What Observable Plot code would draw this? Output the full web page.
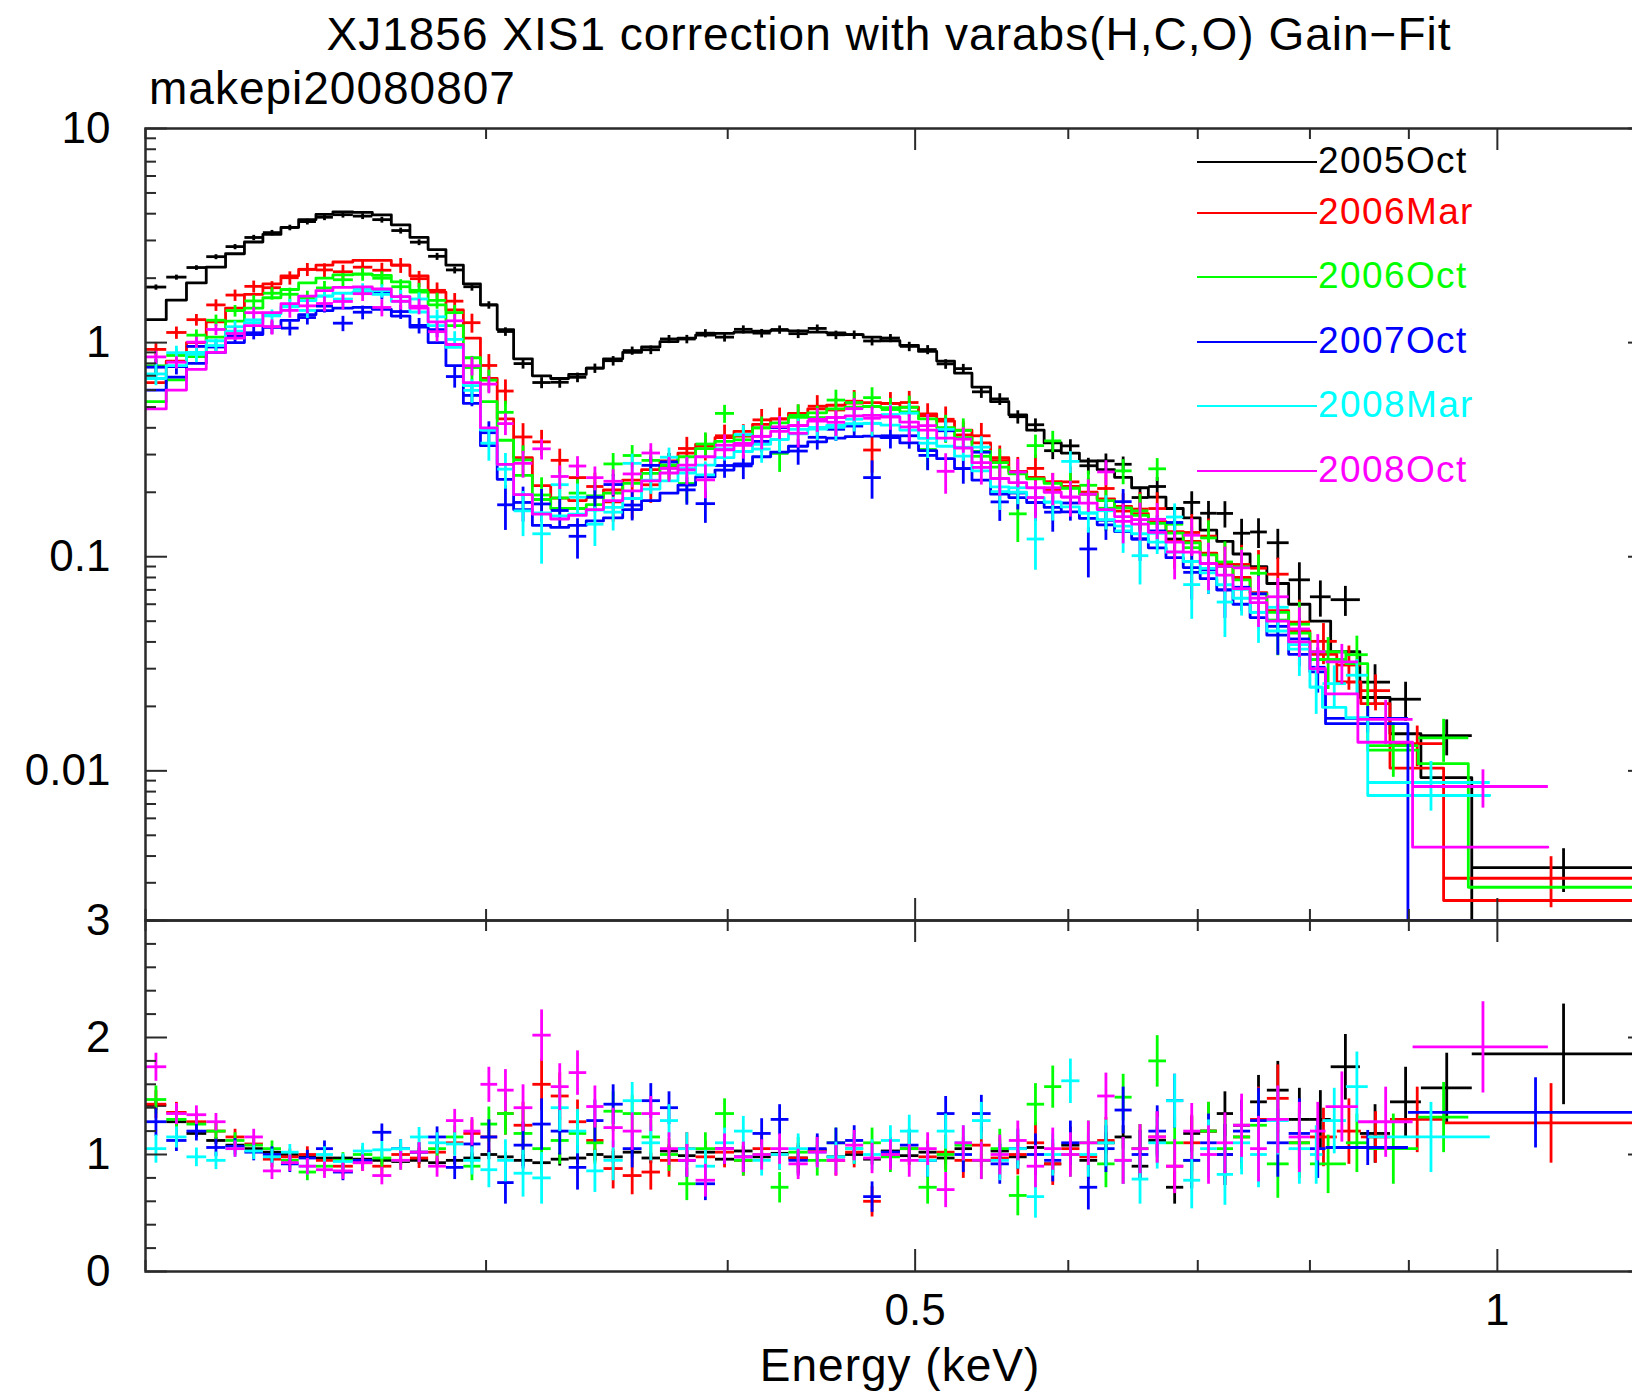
<!DOCTYPE html>
<html><head><meta charset="utf-8">
<script src="https://cdn.jsdelivr.net/npm/d3@7"></script>
<script src="https://cdn.jsdelivr.net/npm/@observablehq/plot@0.6"></script>
<style>
html,body{margin:0;padding:0;background:#fff;overflow:hidden;}
#wrap{position:relative;width:1632px;height:1394px;overflow:hidden;background:#fff;font-family:"Liberation Sans",Arial,Helvetica,sans-serif;}
.t{position:absolute;white-space:nowrap;color:#000;}
</style></head><body><div id="wrap"></div>
<script>
// ---------------- data ----------------
const seriesNames = ["2005Oct","2006Mar","2006Oct","2007Oct","2008Mar","2008Oct"];
const seriesColors = ["#000000","#ff0000","#00ff00","#0000ff","#00ffff","#ff00ff"];

// shared bin edges (keV) for 0.2 - 0.8 keV
const binEdges = [0.200,0.205,0.210,0.215,0.220,0.225,0.230,0.235,0.240,0.245,0.250,0.256,0.262,0.268,0.274,0.280,0.286,0.292,0.298,0.304,0.310,0.317,0.324,0.331,0.338,0.345,0.353,0.361,0.369,0.377,0.385,0.394,0.403,0.412,0.421,0.430,0.440,0.450,0.460,0.470,0.480,0.491,0.502,0.513,0.524,0.535,0.547,0.559,0.571,0.583,0.595,0.608,0.621,0.634,0.647,0.660,0.674,0.688,0.702,0.716,0.730,0.745,0.760,0.780,0.800];

// folded model (counts/s/keV) per bin
const model2005Oct = [1.28,1.58,1.9,2.25,2.6,2.95,3.2,3.45,3.75,3.97, 4.08,4.06,3.95,3.55,3.1,2.72,2.3,1.88,1.5,1.15, 0.84,0.7,0.68,0.71,0.76,0.84,0.9,0.955,1.01,1.05, 1.085,1.105,1.12,1.13,1.14,1.135,1.12,1.11,1.09,1.06, 1.02,0.97,0.91,0.82,0.72,0.62,0.53,0.46,0.39,0.34, 0.305,0.28,0.255,0.235,0.21,0.19,0.168,0.152,0.133,0.118, 0.103,0.09,0.075,0.06];
const model2006Mar = [0.65,0.82,1.0,1.25,1.45,1.68,1.88,2.05,2.2,2.3, 2.38,2.42,2.42,2.3,2.05,1.72,1.42,1.05,0.68,0.44, 0.29,0.215,0.188,0.183,0.19,0.205,0.228,0.255,0.28,0.305, 0.335,0.36,0.385,0.415,0.44,0.467,0.49,0.51,0.522,0.525, 0.52,0.5,0.465,0.43,0.39,0.34,0.29,0.25,0.235,0.224, 0.213,0.2,0.186,0.172,0.159,0.146,0.131,0.118,0.104,0.092, 0.08,0.068,0.056,0.045];
const model2006Oct = [0.53,0.67,0.86,1.06,1.26,1.45,1.62,1.77,1.9,2.0, 2.07,2.09,2.06,1.92,1.72,1.5,1.2,0.85,0.53,0.35, 0.24,0.185,0.168,0.168,0.175,0.198,0.22,0.245,0.268,0.293, 0.32,0.346,0.37,0.4,0.422,0.448,0.47,0.49,0.5,0.503, 0.497,0.475,0.44,0.4,0.36,0.31,0.262,0.244,0.231,0.22, 0.209,0.196,0.183,0.169,0.156,0.143,0.129,0.116,0.102,0.09, 0.078,0.067,0.055,0.044];
const model2007Oct = [0.6,0.69,0.8,0.9,1.0,1.09,1.18,1.27,1.35,1.41, 1.45,1.46,1.43,1.33,1.18,1.0,0.78,0.52,0.33,0.23, 0.166,0.14,0.137,0.14,0.147,0.152,0.166,0.183,0.198,0.216, 0.236,0.254,0.271,0.293,0.308,0.328,0.344,0.358,0.364,0.366, 0.36,0.34,0.313,0.287,0.258,0.228,0.196,0.189,0.179,0.17, 0.162,0.151,0.141,0.131,0.121,0.11,0.099,0.089,0.079,0.07, 0.06,0.052,0.043,0.035];
const model2008Mar = [0.68,0.78,0.9,1.02,1.13,1.24,1.36,1.47,1.57,1.65, 1.7,1.72,1.68,1.56,1.39,1.2,0.95,0.63,0.39,0.27, 0.195,0.16,0.155,0.158,0.165,0.17,0.187,0.207,0.226,0.246, 0.268,0.29,0.31,0.335,0.353,0.375,0.394,0.41,0.418,0.42, 0.412,0.39,0.357,0.328,0.295,0.252,0.212,0.2,0.189,0.18, 0.171,0.16,0.149,0.139,0.128,0.117,0.105,0.095,0.084,0.074, 0.064,0.055,0.045,0.037];
const model2008Oct = [0.49,0.6,0.75,0.9,1.05,1.2,1.38,1.52,1.65,1.75, 1.81,1.82,1.78,1.64,1.45,1.25,0.98,0.65,0.4,0.27, 0.195,0.158,0.15,0.156,0.166,0.183,0.203,0.226,0.246,0.268, 0.293,0.316,0.338,0.365,0.385,0.41,0.43,0.447,0.455,0.457, 0.45,0.425,0.39,0.358,0.322,0.275,0.232,0.222,0.21,0.2, 0.19,0.178,0.166,0.154,0.142,0.13,0.117,0.105,0.093,0.082, 0.071,0.061,0.05,0.04];

// data / model ratio per bin
const ratio2005Oct = [1.42,1.28,1.18,1.12,1.08,1.05,1.02,1.0,0.98,0.97, 0.97,0.96,0.95,0.94,0.95,0.93,0.95,0.97,1.0,0.98, 0.95,0.93,0.96,0.97,1.0,0.98,1.02,0.97,1.03,0.99, 1.02,0.96,1.03,0.98,1.01,0.97,1.04,0.98,1.0,0.96, 1.03,0.99,1.02,0.97,1.05,0.95,1.03,0.98,1.06,0.92, 1.08,0.95,1.1,1.15,0.9,1.12,0.72,1.18,1.2,1.35, 1.25,1.45,1.55,1.3];
const ratio2006Mar = [1.43,1.36,1.28,1.2,1.15,1.09,0.96,0.98,1.0,0.95, 0.9,0.93,0.9,1.0,0.97,1.02,1.1,1.18,1.15,1.35, 1.25,1.6,1.5,1.28,1.12,0.88,0.82,0.85,0.95,1.05, 0.98,1.02,0.95,1.05,1.0,0.97,1.03,0.95,1.02,0.6, 1.0,1.05,0.98,1.02,0.95,1.08,0.97,1.0,1.1,0.92, 1.05,0.98,1.12,0.95,1.05,1.15,0.9,1.1,1.2,1.0, 1.15,1.3,1.48,1.1];
const ratio2006Oct = [1.47,1.3,1.26,1.2,1.12,1.08,1.05,0.95,0.85,0.9, 0.95,1.0,0.97,0.95,1.02,1.05,1.15,0.9,1.26,1.35, 1.18,1.05,1.12,1.18,1.1,1.37,1.35,1.15,1.0,0.75, 1.05,1.35,0.95,1.0,0.72,1.02,0.95,1.1,1.05,1.1, 0.98,1.05,0.72,1.0,1.08,0.95,1.05,0.65,1.43,1.58, 1.0,1.1,0.92,1.49,1.05,1.8,1.1,0.95,1.2,1.05, 1.15,1.25,0.92,1.1];
const ratio2007Oct = [1.28,1.12,1.2,1.06,1.07,1.02,1.0,0.92,0.97,1.05, 0.85,0.95,1.19,1.05,1.02,1.15,0.89,1.09,1.15,0.76, 1.08,1.26,1.2,0.89,1.29,1.43,1.05,1.46,1.4,0.95, 0.75,1.05,0.98,1.18,1.3,0.95,1.05,1.1,1.12,0.64, 1.02,1.08,0.95,1.35,1.0,1.35,0.92,1.05,1.0,0.95, 1.1,0.72,1.05,1.38,1.0,1.2,1.46,0.95,1.1,1.0, 1.2,1.29,1.1,1.18];
const ratio2008Mar = [1.05,1.15,0.98,0.95,1.05,1.03,0.98,1.02,0.9,1.0, 0.94,1.03,1.04,1.05,1.15,1.1,1.09,0.95,0.87,0.95, 0.84,0.8,1.4,1.2,0.86,0.95,1.46,1.1,1.29,1.05, 0.9,1.1,1.2,0.95,1.0,1.05,1.02,0.98,1.05,1.0, 1.12,1.2,0.95,1.2,1.1,1.29,0.95,1.05,0.64,1.0, 1.63,1.0,1.1,0.95,0.79,1.1,1.46,0.78,1.05,0.83, 1.1,1.0,1.29,1.05];
const ratio2008Oct = [1.75,1.35,1.34,1.28,1.05,1.15,0.86,0.93,0.9,0.87, 0.86,0.93,0.82,0.95,1.02,0.9,1.29,1.2,1.6,1.55, 1.4,2.02,1.58,1.7,1.41,1.23,1.2,1.35,1.05,0.95, 0.78,1.05,0.98,1.0,1.05,0.92,1.02,0.95,1.08,0.97, 1.0,0.95,1.05,0.7,1.1,0.95,1.0,1.12,0.9,1.05, 1.0,1.1,1.5,0.95,1.05,1.15,0.9,1.2,1.0,1.1, 1.25,1.05,1.3,1.15];

// 1-sigma error on the ratio per bin
const ratioErrBlack = [0.04,0.035,0.03,0.03,0.03,0.03,0.03,0.03,0.03,0.03, 0.03,0.03,0.03,0.03,0.03,0.035,0.035,0.04,0.04,0.045, 0.05,0.055,0.055,0.05,0.05,0.05,0.045,0.045,0.045,0.045, 0.045,0.045,0.045,0.045,0.045,0.045,0.045,0.045,0.045,0.045, 0.045,0.05,0.05,0.05,0.055,0.06,0.065,0.07,0.075,0.08, 0.08,0.085,0.09,0.1,0.11,0.12,0.14,0.15,0.17,0.19, 0.21,0.23,0.25,0.27];
const ratioErrColor = [0.12,0.09,0.08,0.075,0.07,0.07,0.07,0.07,0.07,0.07, 0.07,0.07,0.075,0.08,0.085,0.09,0.1,0.12,0.15,0.18, 0.2,0.22,0.2,0.19,0.18,0.17,0.16,0.15,0.14,0.14, 0.14,0.13,0.13,0.13,0.13,0.13,0.13,0.13,0.13,0.13, 0.13,0.14,0.14,0.15,0.15,0.16,0.17,0.17,0.18,0.18, 0.19,0.19,0.2,0.2,0.21,0.22,0.23,0.24,0.25,0.26, 0.27,0.28,0.29,0.3];

// wide high-energy bins, per observation
const tailEdges2005Oct = [0.80,0.82,0.849,0.88,0.913,0.97,1.194];
const tailModel2005Oct = [0.05,0.036,0.022,0.0149,0.0093,0.0019];
const tailRatio2005Oct = [1.3,1.75,1.18,1.45,1.57,1.86];
const tailErr2005Oct   = [0.25,0.28,0.25,0.3,0.3,0.43];
const tailEdges2006Mar = [0.80,0.826,0.85,0.88,0.938,1.194];
const tailModel2006Mar = [0.035,0.026,0.0206,0.0103,0.00248];
const tailRatio2006Mar = [1.15,1.2,1.15,1.3,1.27];
const tailErr2006Mar   = [0.25,0.28,0.22,0.28,0.34];
const tailEdges2006Oct = [0.80,0.835,0.857,0.91,0.966,1.194];
const tailModel2006Oct = [0.036,0.0317,0.0125,0.0108,0.00286];
const tailRatio2006Oct = [0.92,1.1,1.05,1.32,null];
const tailErr2006Oct   = [0.25,0.25,0.3,0.3,0.3];
const tailEdges2007Oct = [0.80,0.815,0.899,1.194];
const tailModel2007Oct = [0.029,0.0166,0.0012];
const tailRatio2007Oct = [1.05,1.06,1.36];
const tailErr2007Oct   = [0.25,0.15,0.3];
const tailEdges2008Mar = [0.80,0.812,0.835,0.857,0.991];
const tailModel2008Mar = [0.0246,0.0198,0.0177,0.00767];
const tailRatio2008Mar = [1.0,1.29,1.58,1.15];
const tailErr2008Mar   = [0.25,0.28,0.3,0.3];
const tailEdges2008Oct = [0.80,0.815,0.847,0.904,1.062];
const tailModel2008Oct = [0.03,0.0229,0.0136,0.0044];
const tailRatio2008Oct = [1.2,1.41,1.28,1.92];
const tailErr2008Oct   = [0.25,0.3,0.3,0.39];

// axes
const xDomain = [0.2, 1.2];
const yTopDomain = [0.002, 10];
const yBotDomain = [0, 3];
const xMajorTicks = [0.5, 1];
const xMinorTicks = [0.2, 0.3, 0.4, 0.6, 0.7, 0.8, 0.9];
const xTickLabels = ["0.5", "1"];
const yTopMajorTicks = [0.01, 0.1, 1, 10];
const yTopMinorTicks = [0.002,0.003,0.004,0.005,0.006,0.007,0.008,0.009,0.02,0.03,0.04,0.05,0.06,0.07,0.08,0.09,0.2,0.3,0.4,0.5,0.6,0.7,0.8,0.9,2,3,4,5,6,7,8,9];
const yTopTickLabels = ["0.01","0.1","1","10"];
const yBotMajorTicks = [0, 1, 2, 3];
const yBotMinorTicks = [0.2,0.4,0.6,0.8,1.2,1.4,1.6,1.8,2.2,2.4,2.6,2.8];
const yBotTickLabels = ["0","1","2","3"];

// ---------------- build ----------------
const models = [model2005Oct, model2006Mar, model2006Oct, model2007Oct, model2008Mar, model2008Oct];
const ratios = [ratio2005Oct, ratio2006Mar, ratio2006Oct, ratio2007Oct, ratio2008Mar, ratio2008Oct];
const tailEdges = [tailEdges2005Oct, tailEdges2006Mar, tailEdges2006Oct, tailEdges2007Oct, tailEdges2008Mar, tailEdges2008Oct];
const tailModels = [tailModel2005Oct, tailModel2006Mar, tailModel2006Oct, tailModel2007Oct, tailModel2008Mar, tailModel2008Oct];
const tailRatios = [tailRatio2005Oct, tailRatio2006Mar, tailRatio2006Oct, tailRatio2007Oct, tailRatio2008Mar, tailRatio2008Oct];
const tailErrs = [tailErr2005Oct, tailErr2006Mar, tailErr2006Oct, tailErr2007Oct, tailErr2008Mar, tailErr2008Oct];

const series = seriesNames.map((name, i) => {
  const err = i === 0 ? ratioErrBlack : ratioErrColor;
  const bins = models[i].map((m, k) => ({lo: binEdges[k], hi: binEdges[k + 1], m, r: ratios[i][k], e: err[k]}));
  tailModels[i].forEach((m, k) => bins.push({lo: tailEdges[i][k], hi: tailEdges[i][k + 1], m, r: tailRatios[i][k], e: tailErrs[i][k]}));
  return {name, color: seriesColors[i], bins};
});

const yFloor = yTopDomain[0];
const modelPath = s => s.bins.flatMap(b => {
  const y = Math.max(b.m, yFloor);
  return [{x: b.lo, y}, {x: b.hi, y}];
});
const dataPts = s => s.bins.filter(b => b.r != null).map(b => {
  const v = b.m * b.r, ev = b.m * b.e;
  return {lo: b.lo, hi: b.hi, xc: (b.lo + b.hi) / 2, v, vlo: Math.max(v - ev, 1e-5), vhi: v + ev,
          r: b.r, rlo: b.r - b.e, rhi: b.r + b.e};
});

const W = 1650, ML = 145, MR = 0;
const frameW = W - ML - MR;
const topFrameH = 792, botFrameH = 351;
const axisColor = "#2a2a2a";
const FONT = "Liberation Sans, Arial, Helvetica, sans-serif";
const LW = 2.8;

function tickMarks(frameH, yMajor, yMinor) {
  const o = {stroke: axisColor, strokeWidth: 2};
  return [
    Plot.tickX(xMinorTicks, {x: d => d, insetBottom: frameH - 11, ...o}),
    Plot.tickX(xMinorTicks, {x: d => d, insetTop: frameH - 11, ...o}),
    Plot.tickX(xMajorTicks, {x: d => d, insetBottom: frameH - 22, ...o}),
    Plot.tickX(xMajorTicks, {x: d => d, insetTop: frameH - 22, ...o}),
    Plot.tickY(yMinor, {y: d => d, insetRight: frameW - 11, ...o}),
    Plot.tickY(yMinor, {y: d => d, insetLeft: frameW - 11, ...o}),
    Plot.tickY(yMajor, {y: d => d, insetRight: frameW - 22, ...o}),
    Plot.tickY(yMajor, {y: d => d, insetLeft: frameW - 22, ...o}),
    Plot.frame({stroke: axisColor, strokeWidth: 2.5})
  ];
}

const svgStyle = "background: transparent; overflow: visible; max-width: none; font-family: 'Liberation Sans', Arial, Helvetica, sans-serif;";

const topMarks = [];
for (const s of series) {
  const d = dataPts(s);
  topMarks.push(Plot.link(d, {x1: "lo", x2: "hi", y1: "v", y2: "v", stroke: s.color, strokeWidth: LW, clip: true}));
  topMarks.push(Plot.link(d, {x1: "xc", x2: "xc", y1: "vlo", y2: "vhi", stroke: s.color, strokeWidth: LW, clip: true}));
  topMarks.push(Plot.line(modelPath(s), {x: "x", y: "y", stroke: s.color, strokeWidth: LW, clip: true}));
}
topMarks.push(...tickMarks(topFrameH, yTopMajorTicks, yTopMinorTicks));
topMarks.push(Plot.text(yTopMajorTicks, {y: d => d, text: (d, i) => yTopTickLabels[i], frameAnchor: "left", textAnchor: "end", lineAnchor: "middle", dx: -35, fontSize: 44, fontFamily: FONT, fill: "#000"}));

const topPlot = Plot.plot({
  width: W, height: 28 + topFrameH + 8,
  marginTop: 28, marginBottom: 8, marginLeft: ML, marginRight: MR,
  x: {type: "log", domain: xDomain, axis: null},
  y: {type: "log", domain: yTopDomain, axis: null},
  style: svgStyle,
  marks: topMarks
});

const botMarks = [];
for (const s of series) {
  const d = dataPts(s);
  botMarks.push(Plot.link(d, {x1: "lo", x2: "hi", y1: "r", y2: "r", stroke: s.color, strokeWidth: LW, clip: true}));
  botMarks.push(Plot.link(d, {x1: "xc", x2: "xc", y1: "rlo", y2: "rhi", stroke: s.color, strokeWidth: LW, clip: true}));
}
botMarks.push(...tickMarks(botFrameH, yBotMajorTicks, yBotMinorTicks));
botMarks.push(Plot.text(yBotMajorTicks, {y: d => d, text: (d, i) => yBotTickLabels[i], frameAnchor: "left", textAnchor: "end", lineAnchor: "middle", dx: -35, fontSize: 44, fontFamily: FONT, fill: "#000"}));
botMarks.push(Plot.text(xMajorTicks, {x: d => d, text: (d, i) => xTickLabels[i], frameAnchor: "bottom", lineAnchor: "top", dy: 22, fontSize: 44, fontFamily: FONT, fill: "#000"}));

const botPlot = Plot.plot({
  width: W, height: 20 + botFrameH + 80,
  marginTop: 20, marginBottom: 80, marginLeft: ML, marginRight: MR,
  x: {type: "log", domain: xDomain, axis: null},
  y: {domain: yBotDomain, axis: null},
  style: svgStyle,
  marks: botMarks
});

const wrap = document.getElementById("wrap");
for (const [el, top] of [[topPlot, 100], [botPlot, 900]]) {
  el.style.position = "absolute";
  el.style.left = "0px";
  el.style.top = top + "px";
  el.style.maxWidth = "none";
  el.style.background = "transparent";
  wrap.appendChild(el);
}

function addText(txt, left, top, size, extra) {
  const d = document.createElement("div");
  d.className = "t";
  d.textContent = txt;
  d.style.left = left + "px";
  d.style.top = top + "px";
  d.style.fontSize = size + "px";
  d.style.lineHeight = size + "px";
  Object.assign(d.style, extra || {});
  wrap.appendChild(d);
  return d;
}
addText("XJ1856 XIS1 correction with varabs(H,C,O) Gain\u2212Fit", 889, 11, 46, {transform: "translateX(-50%)", letterSpacing: "1px"});
addText("makepi20080807", 149, 65, 46, {letterSpacing: "1px"});
addText("Energy (keV)", 900, 1342, 46, {transform: "translateX(-50%)", letterSpacing: "1px"});

// legend
const legendRowY = [162, 213, 277, 342, 406, 471];
series.forEach((s, i) => {
  const ln = document.createElement("div");
  ln.style.position = "absolute";
  ln.style.left = "1197px";
  ln.style.width = "120px";
  ln.style.top = (legendRowY[i] - 1) + "px";
  ln.style.borderTop = "2px solid " + s.color;
  wrap.appendChild(ln);
  addText(s.name, 1318, legendRowY[i] + 11.5 - 31.3, 37, {color: s.color, letterSpacing: "1.4px"});
});
</script></body></html>
